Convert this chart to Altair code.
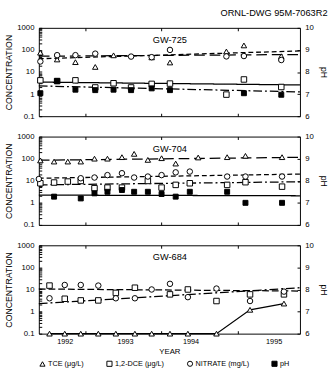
import altair as alt
import pandas as pd

FONT = "Liberation Sans"

# ---------------- data ----------------
SERIES = ["TCE (μg/L)", "1,2-DCE (μg/L)", "NITRATE (mg/L)", "pH"]
SHAPES = ["triangle-up", "square", "circle", "square"]
FILLS = ["white", "white", "white", "black"]
STROKES = ["black", "black", "black", "black"]

X_DOMAIN = [1992.39, 1995.815]
TICK_YEARS = [1993.0, 1994.0, 1995.0]
LABEL_POS = [1992.73, 1993.52, 1994.38, 1995.47]
LOG_TICKS = [0.1, 0.2, 0.3, 0.4, 0.5, 0.6, 0.7, 0.8, 0.9,
             1, 2, 3, 4, 5, 6, 7, 8, 9,
             10, 20, 30, 40, 50, 60, 70, 80, 90,
             100, 200, 300, 400, 500, 600, 700, 800, 900, 1000]
PH_TICKS = [6, 7, 8, 9, 10]

# GW-725
w725_tce_x = [1992.41, 1992.63, 1992.87, 1993.13, 1993.37, 1993.87, 1994.11, 1994.85, 1995.08, 1995.57]
w725_tce_y = [75, 37, 28, 17, 57, 46, 27, 85, 160, 52]
w725_dce_x = [1992.41, 1992.63, 1992.87, 1993.13, 1993.37, 1993.60, 1993.87, 1994.11, 1994.85, 1995.08, 1995.57]
w725_dce_y = [4.2, 3.9, 4.2, 2.0, 3.1, 2.0, 2.9, 3.0, 0.95, 4.6, 2.1]
w725_no3_x = [1992.41, 1992.63, 1992.87, 1993.13, 1993.60, 1993.87, 1994.11, 1994.85, 1995.08, 1995.57]
w725_no3_y = [30, 58, 58, 68, 50, 47, 100, 51, 53, 35]
w725_ph_x = [1992.41, 1992.63, 1992.87, 1993.13, 1993.37, 1993.60, 1993.87, 1994.11, 1995.08, 1995.57]
w725_ph_y = [7.04, 7.59, 7.2, 7.18, 7.2, 7.18, 7.26, 7.18, 7.04, 6.97]
w725_trend_series = ["TCE (μg/L)", "NITRATE (mg/L)", "1,2-DCE (μg/L)", "pH"]
w725_trend_start = [52, 40, 3.5, 7.37]
w725_trend_end = [62, 90, 2.6, 7.1]
w725_trend_dash = [[11, 5], [5, 3], [1, 0], [9, 3, 2, 3]]

# GW-704
w704_tce_x = [1992.41, 1992.59, 1992.77, 1992.94, 1993.12, 1993.29, 1993.48, 1993.64, 1993.82, 1994.00,
              1994.185, 1994.48, 1994.86, 1995.10, 1995.58]
w704_tce_y = [83, 74, 74, 74, 100, 100, 117, 165, 88, 105, 60, 113, 117, 134, 117]
w704_dce_x = [1992.41, 1992.59, 1992.77, 1992.94, 1993.12, 1993.29, 1993.48, 1993.82, 1994.00, 1994.185,
              1994.37, 1994.86, 1995.10, 1995.58]
w704_dce_y = [7.7, 8.3, 9.2, 9.8, 4.6, 4.9, 4.9, 9.8, 4.9, 6.5, 7.7, 6.5, 8.6, 5.4]
w704_no3_x = [1992.39, 1992.94, 1993.12, 1993.29, 1993.48, 1993.64, 1993.82, 1994.00, 1994.185, 1994.37,
              1994.86, 1995.10, 1995.58]
w704_no3_y = [12, 13, 14, 18, 22, 14, 15.5, 18, 24, 26, 15.5, 15.5, 15.5]
w704_ph_x = [1992.59, 1992.94, 1993.12, 1993.29, 1993.48, 1993.64, 1993.82, 1994.00, 1994.185, 1994.37,
             1994.86, 1995.10, 1995.58]
w704_ph_y = [7.28, 7.2, 7.43, 7.5, 7.58, 7.5, 7.5, 7.4, 7.28, 7.5, 7.5, 7.0, 7.0]
w704_trend_series = ["TCE (μg/L)", "NITRATE (mg/L)", "1,2-DCE (μg/L)", "pH"]
w704_trend_start = [85, 13, 6.5, 7.35]
w704_trend_end = [115, 20, 9, 7.32]
w704_trend_dash = [[11, 5], [5, 3], [9, 3, 2, 3], [1, 0]]

# GW-684
w684_tce_x = [1992.53, 1992.73, 1992.94, 1993.17, 1993.40, 1993.65, 1993.87, 1994.11, 1994.345, 1994.72,
              1995.16, 1995.605]
w684_tce_y = [0.1, 0.1, 0.1, 0.1, 0.1, 0.1, 0.1, 0.1, 0.1, 0.1, 1.2, 2.3]
w684_dce_x = [1992.53, 1992.73, 1992.94, 1993.17, 1993.40, 1993.65, 1994.11, 1994.345, 1994.72, 1995.16, 1995.605]
w684_dce_y = [15, 3.8, 3.2, 3.2, 7, 12, 6, 10, 3, 6, 6]
w684_no3_x = [1992.53, 1992.73, 1992.94, 1993.17, 1993.40, 1993.65, 1993.87, 1994.11, 1994.345, 1994.72,
              1995.16, 1995.605]
w684_no3_y = [4, 16, 16, 15, 4, 4, 10, 18, 4.5, 11, 3, 8]
w684_ph_x = []
w684_ph_y = []
w684_trend_series = ["NITRATE (mg/L)", "1,2-DCE (μg/L)"]
w684_trend_start = [10.5, 2.3]
w684_trend_end = [8.5, 12]
w684_trend_dash = [[7, 3], [9, 3, 2, 3]]

PANELS = [
    dict(name="GW-725",
         points=[(SERIES[0], w725_tce_x, w725_tce_y), (SERIES[1], w725_dce_x, w725_dce_y),
                 (SERIES[2], w725_no3_x, w725_no3_y), (SERIES[3], w725_ph_x, w725_ph_y)],
         trends=list(zip(w725_trend_series, w725_trend_start, w725_trend_end, w725_trend_dash)),
         connect=None),
    dict(name="GW-704",
         points=[(SERIES[0], w704_tce_x, w704_tce_y), (SERIES[1], w704_dce_x, w704_dce_y),
                 (SERIES[2], w704_no3_x, w704_no3_y), (SERIES[3], w704_ph_x, w704_ph_y)],
         trends=list(zip(w704_trend_series, w704_trend_start, w704_trend_end, w704_trend_dash)),
         connect=None),
    dict(name="GW-684",
         points=[(SERIES[0], w684_tce_x, w684_tce_y), (SERIES[1], w684_dce_x, w684_dce_y),
                 (SERIES[2], w684_no3_x, w684_no3_y), (SERIES[3], w684_ph_x, w684_ph_y)],
         trends=list(zip(w684_trend_series, w684_trend_start, w684_trend_end, w684_trend_dash)),
         connect=SERIES[0]),
]

W, H = 269, 91
TK = 3  # inward tick length

x_scale = alt.Scale(domain=X_DOMAIN, nice=False, zero=False)
conc_scale = alt.Scale(type="log", domain=[0.1, 1000], nice=False)
ph_scale = alt.Scale(domain=[6, 10], nice=False, zero=False)
shape_scale = alt.Scale(domain=SERIES, range=SHAPES)
fill_scale = alt.Scale(domain=SERIES, range=FILLS)
stroke_scale = alt.Scale(domain=SERIES, range=STROKES)

legend = alt.Legend(title=None, orient="bottom", direction="horizontal", columns=4,
                    labelFont=FONT, labelFontSize=7.5, labelColor="black",
                    symbolSize=28, symbolStrokeWidth=1,
                    columnPadding=21, labelOffset=2, offset=4, padding=0)


def left_axis():
    return alt.Axis(orient="left", values=LOG_TICKS, offset=-TK, tickSize=TK, tickColor="black",
                    domain=False, grid=False, labelOverlap=False, labelPadding=5,
                    labelExpr="abs(log(datum.value)/LN10 - round(log(datum.value)/LN10)) < 0.001 ? format(datum.value, '~g') : ''",
                    labelFont=FONT, labelFontSize=8, labelColor="black",
                    title="CONCENTRATION", titleFont=FONT, titleFontSize=9, titleFontWeight="normal",
                    titleColor="black", titlePadding=3)


def right_axis():
    return alt.Axis(orient="right", values=PH_TICKS, offset=-TK, tickSize=TK, tickColor="black",
                    domain=False, grid=False, labelPadding=5, labelFlush=False,
                    labelFont=FONT, labelFontSize=8, labelColor="black",
                    title="pH", titleFont=FONT, titleFontSize=9, titleFontWeight="normal",
                    titleColor="black", titlePadding=5)


def top_axis(name):
    return alt.Axis(orient="top", values=TICK_YEARS, offset=-TK, tickSize=TK, tickColor="black",
                    domain=False, grid=False, labels=False,
                    title=name, titleFont=FONT, titleFontSize=9.5, titleFontWeight="normal",
                    titleColor="black", titleY=9, titleBaseline="middle")


def bottom_axis(last):
    if last:
        return alt.Axis(orient="bottom", values=sorted(TICK_YEARS + LABEL_POS), offset=-TK, tickSize=TK,
                        tickColor="black", domain=False, grid=False, labelFlush=False, labelOverlap=False,
                        tickOpacity={"condition": {"test": "datum.value % 1 == 0", "value": 1}, "value": 0},
                        labelExpr="datum.value % 1 == 0 ? '' : format(floor(datum.value), 'd')",
                        labelFont=FONT, labelFontSize=7.5, labelColor="black", labelPadding=4,
                        title="YEAR", titleFont=FONT, titleFontSize=8, titleFontWeight="normal",
                        titleColor="black", titlePadding=3)
    return alt.Axis(orient="bottom", values=TICK_YEARS, offset=-TK, tickSize=TK, tickColor="black",
                    domain=False, grid=False, labels=False, title=None)


def panel(p, last):
    rows = []
    for s, xs, ys in p["points"]:
        rows += [{"series": s, "year": x, "value": y} for x, y in zip(xs, ys)]
    df = pd.DataFrame(rows, columns=["series", "year", "value"])
    conc = df[df.series != "pH"]
    ph = df[df.series == "pH"]

    layers = []
    for s, y0, y1, dash in p["trends"]:
        tdf = pd.DataFrame({"year": X_DOMAIN, "value": [y0, y1]})
        sc = ph_scale if s == "pH" else conc_scale
        layers.append(alt.Chart(tdf).mark_line(color="black", strokeWidth=1.3, strokeDash=dash).encode(
            x=alt.X("year:Q", scale=x_scale, axis=None),
            y=alt.Y("value:Q", scale=sc, axis=None)))
    if p["connect"]:
        cdf = conc[conc.series == p["connect"]]
        layers.append(alt.Chart(cdf).mark_line(color="black", strokeWidth=1.3).encode(
            x=alt.X("year:Q", scale=x_scale, axis=None),
            y=alt.Y("value:Q", scale=conc_scale, axis=None)))

    enc = dict(
        shape=alt.Shape("series:N", scale=shape_scale, legend=legend),
        fill=alt.Fill("series:N", scale=fill_scale, legend=legend),
        stroke=alt.Stroke("series:N", scale=stroke_scale, legend=legend),
    )
    layers.append(alt.Chart(conc).mark_point(filled=True, strokeWidth=1, opacity=1, size=32).encode(
        x=alt.X("year:Q", scale=x_scale, axis=bottom_axis(last)),
        y=alt.Y("value:Q", scale=conc_scale, axis=left_axis()), **enc))
    layers.append(alt.Chart(ph).mark_point(filled=True, strokeWidth=1, opacity=1, size=26).encode(
        x=alt.X("year:Q", scale=x_scale, axis=top_axis(p["name"])),
        y=alt.Y("value:Q", scale=ph_scale, axis=right_axis()), **enc))

    return alt.layer(*layers).resolve_scale(y="independent").properties(width=W, height=H)


charts = [panel(p, i == len(PANELS) - 1) for i, p in enumerate(PANELS)]

chart = alt.vconcat(*charts, spacing=21, bounds="flush").properties(
    title=alt.TitleParams("ORNL-DWG 95M-7063R2", anchor="end", font=FONT, fontSize=9.5,
                          fontWeight="normal", color="black", offset=6),
    padding={"left": 4, "top": 3, "right": 4, "bottom": 4},
    background="white",
).configure_view(stroke="black", strokeWidth=1)

chart.save("out.html", embed_options={"renderer": "svg", "actions": False})
